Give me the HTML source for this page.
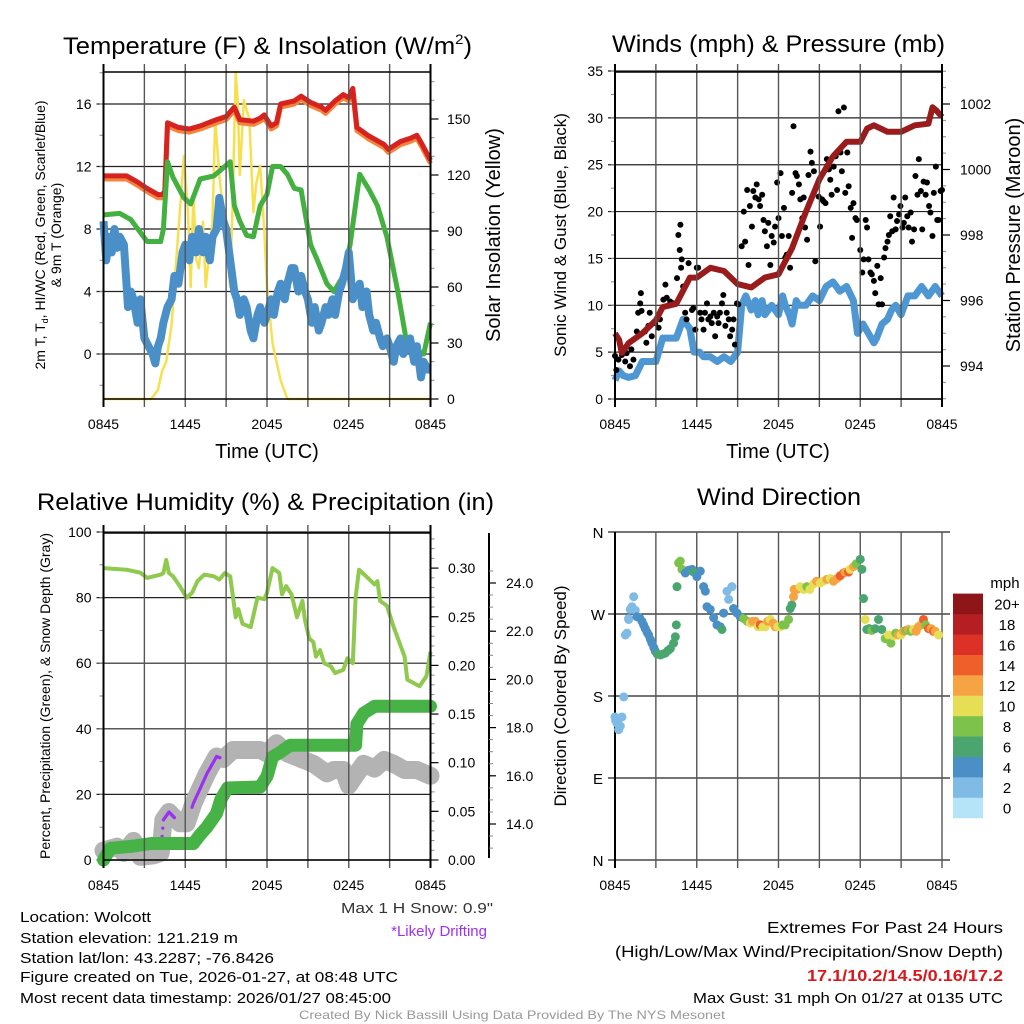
<!DOCTYPE html>
<html><head><meta charset="utf-8"><title>Mesonet Meteogram - Wolcott</title>
<style>
html,body{margin:0;padding:0;background:#fff;}
svg{display:block;font-family:"Liberation Sans",Arial,sans-serif;}
</style></head>
<body>
<svg id="fig" width="1024" height="1024" viewBox="0 0 1024 1024" xmlns="http://www.w3.org/2000/svg">
<rect width="1024" height="1024" fill="#fff"/>
<text x="63" y="54" font-size="24" textLength="409" lengthAdjust="spacingAndGlyphs">Temperature (F) &amp; Insolation (W/m<tspan font-size="14" dy="-10">2</tspan><tspan dy="10">)</tspan></text>
<text x="612" y="52" font-size="24" textLength="333" lengthAdjust="spacingAndGlyphs">Winds (mph) &amp; Pressure (mb)</text>
<text x="37" y="510" font-size="24" textLength="457" lengthAdjust="spacingAndGlyphs">Relative Humidity (%) &amp; Precipitation (in)</text>
<text x="697" y="505" font-size="24" textLength="164" lengthAdjust="spacingAndGlyphs">Wind Direction</text>

<text x="267" y="458" font-size="20" text-anchor="middle">Time (UTC)</text>
<text x="778" y="458" font-size="20" text-anchor="middle">Time (UTC)</text>
<text transform="translate(45,235) rotate(-90)" font-size="14" text-anchor="middle">2m T, T<tspan font-size="9" dy="3">d</tspan><tspan dy="-3">, HI/WC (Red, Green, Scarlet/Blue)</tspan></text>
<text transform="translate(61,235) rotate(-90)" font-size="14" text-anchor="middle">&amp; 9m T (Orange)</text>
<text transform="translate(500,235) rotate(-90)" font-size="20" text-anchor="middle">Solar Insolation (Yellow)</text>
<text transform="translate(566,235) rotate(-90)" font-size="17" text-anchor="middle">Sonic Wind &amp; Gust (Blue, Black)</text>
<text transform="translate(1020,235) rotate(-90)" font-size="20" text-anchor="middle">Station Pressure (Maroon)</text>
<text transform="translate(50,696) rotate(-90)" font-size="14" text-anchor="middle">Percent, Precipitation (Green), &amp; Snow Depth (Gray)</text>
<text transform="translate(566,696) rotate(-90)" font-size="17" text-anchor="middle">Direction (Colored By Speed)</text>

<text x="493" y="913" font-size="15" fill="#333" text-anchor="end" textLength="152" lengthAdjust="spacingAndGlyphs">Max 1 H Snow: 0.9"</text>
<text x="487" y="936" font-size="15" fill="#a030f0" text-anchor="end">*Likely Drifting</text>
<g font-size="15">
<text x="20" y="922" textLength="131" lengthAdjust="spacingAndGlyphs">Location: Wolcott</text>
<text x="20" y="943" textLength="218" lengthAdjust="spacingAndGlyphs">Station elevation: 121.219 m</text>
<text x="20" y="963" textLength="254" lengthAdjust="spacingAndGlyphs">Station lat/lon: 43.2287; -76.8426</text>
<text x="20" y="982" textLength="378" lengthAdjust="spacingAndGlyphs">Figure created on Tue, 2026-01-27, at 08:48 UTC</text>
<text x="20" y="1003" textLength="371" lengthAdjust="spacingAndGlyphs">Most recent data timestamp: 2026/01/27 08:45:00</text>
</g>
<g text-anchor="end">
<text x="1003" y="933" font-size="16" textLength="236" lengthAdjust="spacingAndGlyphs">Extremes For Past 24 Hours</text>
<text x="1003" y="957" font-size="16" textLength="388" lengthAdjust="spacingAndGlyphs">(High/Low/Max Wind/Precipitation/Snow Depth)</text>
<text x="1003" y="981" font-size="16" font-weight="bold" fill="#d7191c" textLength="196" lengthAdjust="spacingAndGlyphs">17.1/10.2/14.5/0.16/17.2</text>
<text x="1003" y="1003" font-size="15" textLength="310" lengthAdjust="spacingAndGlyphs">Max Gust: 31 mph On 01/27 at 0135 UTC</text>
</g>
<text x="512" y="1019" font-size="12" fill="#999" text-anchor="middle" textLength="426" lengthAdjust="spacingAndGlyphs">Created By Nick Bassill Using Data Provided By The NYS Mesonet</text>
</svg>
<script>
// ---------- data ----------
const xTickLabels = ["0845","1445","2045","0245","0845"];
const tempTicks = [0,4,8,12,16];
const solarTicks = [0,30,60,90,120,150];
const windTicks = [0,5,10,15,20,25,30,35];
const pressTicks = [994,996,998,1000,1002];
const rhTicks = [0,20,40,60,80,100];
const precipTicks = ["0.00","0.05","0.10","0.15","0.20","0.25","0.30"];
const snowTicks = ["14.0","16.0","18.0","20.0","22.0","24.0"];
const dirTicks = ["N","E","S","W","N"];
const speedBins = ["0","2","4","6","8","10","12","14","16","18","20+"];
const speedColors = ["#b5e3f8","#7fbbe5","#4a8fc6","#4aa66e","#7dc24b","#e6df55","#f6a443","#ee5f2a","#dc3127","#b51f24","#8e1518"];

const redH = [0,1.7,2.5,3.2,4.0,4.3,4.5,4.7,5.5,6.3,7.1,8.3,9.0,9.6,10.0,11.0,11.5,11.8,12.3,12.7,13.0,14.0,14.5,15.2,16.0,16.3,17.0,17.6,18.0,18.3,18.6,19.4,20.0,20.6,20.9,21.8,22.5,23.0,23.4,24.0];
const redT = [11.4,11.4,11.0,10.6,10.2,10.2,10.4,14.8,14.5,14.4,14.6,15.0,15.2,15.8,15.0,14.9,15.1,15.3,14.6,14.8,16.0,16.2,16.5,16.1,15.8,15.6,16.2,16.6,16.4,17.0,14.5,14.0,13.7,13.4,13.1,13.6,13.8,14.0,13.4,12.4];
const greenH = [0,1.2,2.0,3.2,4.2,4.4,4.7,5.1,5.9,6.4,7.1,8.1,9.3,9.6,10.0,10.5,11.0,11.5,12.0,12.4,13.0,13.5,14.0,14.5,14.7,15.2,15.7,16.4,16.9,17.6,18.1,18.8,19.5,20.1,20.8,21.6,22.3,23.5,24.0];
const greenT = [8.9,9.0,8.6,7.2,7.2,8.0,12.3,11.3,10.0,9.6,11.2,11.4,12.3,9.5,8.5,7.6,7.5,9.5,10.2,12.0,12.0,11.5,10.6,10.5,9.5,7.0,6.0,4.5,4.0,5.0,7.0,11.5,10.5,9.5,7.5,4.0,0.5,0.0,2.0];
const blueH = [0,0.2,0.4,0.6,0.8,1.0,1.2,1.5,1.8,2.0,2.2,2.5,2.7,3.0,3.3,3.6,3.8,4.0,4.2,4.4,4.7,5.0,5.2,5.5,5.8,6.0,6.3,6.5,6.8,7.0,7.3,7.5,7.8,8.0,8.3,8.5,8.8,9.0,9.3,9.6,9.8,10.0,10.3,10.5,10.8,11.0,11.3,11.5,11.8,12.0,12.3,12.5,12.8,13.0,13.3,13.5,13.8,14.0,14.3,14.5,14.8,15.0,15.3,15.5,15.8,16.0,16.3,16.5,16.8,17.0,17.3,17.5,17.8,18.0,18.3,18.5,18.8,19.0,19.3,19.5,19.8,20.0,20.3,20.5,20.8,21.0,21.3,21.5,21.8,22.0,22.3,22.5,22.8,23.0,23.3,23.5,23.8,24.0];
const blueT = [8.5,6.0,7.5,6.5,8.0,6.8,7.5,7.0,3.0,4.0,3.5,2.0,3.5,1.0,0.5,0.0,-0.6,0.5,1.0,2.0,3.0,3.5,5.0,4.5,6.5,7.0,6.0,7.5,6.5,8.0,6.5,7.5,6.0,7.5,8.0,10.0,8.5,8.0,6.0,4.0,3.5,2.5,3.5,3.0,1.5,1.0,2.5,3.0,2.0,2.5,3.5,2.5,4.0,4.5,3.5,4.5,5.5,5.5,4.0,5.0,4.0,3.5,2.0,3.0,1.5,2.0,3.0,2.5,3.5,2.5,4.0,4.5,5.5,6.5,3.5,4.0,4.5,3.0,4.0,2.5,1.5,2.0,1.0,0.5,1.0,0.5,-0.5,0.5,1.0,0.0,0.5,1.0,-0.5,0.5,-1.5,-0.5,-1.0,-1.0];
const solarH = [0,3.5,4.0,4.3,4.6,5.0,5.5,5.9,6.2,6.4,6.6,6.8,7.0,7.3,7.5,8.0,8.2,8.5,9.0,9.3,9.5,9.7,9.85,10.0,10.3,10.7,11.0,11.2,11.5,11.8,12.0,12.4,12.7,13.0,13.5,24.0];
const solarV = [0,0,5,15,20,40,90,130,100,60,110,75,70,95,60,95,150,120,85,60,110,175,160,120,160,150,100,115,125,90,60,30,20,10,0,0];

const windH = [0,0.3,0.6,1.0,1.5,2.0,2.5,3.0,3.3,3.5,4.0,4.5,5.0,5.5,5.8,6.2,6.5,7.0,7.5,8.0,8.5,9.0,9.3,9.6,10.0,10.3,10.5,10.8,11.0,11.5,12.0,12.3,12.5,12.8,13.0,13.3,13.5,14.0,14.5,15.0,15.5,16.0,16.5,17.0,17.5,17.8,18.2,18.6,19.0,19.2,19.6,20.0,20.3,20.6,21.0,21.5,22.0,22.5,23.0,23.5,24.0];
const windV = [2.0,3.0,2.5,2.3,2.5,4.0,4.0,4.0,5.5,6.5,6.5,6.5,8.5,7.5,5.0,5.0,4.5,4.5,4.0,4.5,4.0,5.0,10.0,11.0,9.5,10.5,9.0,10.5,9.0,10.0,9.0,11.0,10.0,9.0,8.0,10.5,10.0,10.0,11.0,10.5,12.0,12.5,11.5,12.0,10.5,7.0,8.0,7.0,6.0,6.5,8.0,8.5,9.5,10.0,9.0,11.0,11.0,12.0,11.0,12.0,11.0];
const pressH = [0,0.3,0.5,1.0,2.0,3.0,3.5,4.5,5.5,6.0,7.0,8.0,9.0,10.0,11.0,12.0,13.0,14.0,15.0,16.0,17.0,18.0,18.5,19.0,20.0,21.0,22.0,23.0,23.3,23.6,24.0];
const pressP = [995.0,994.8,994.4,994.7,995.0,995.4,995.8,995.9,996.7,996.7,997.0,996.9,996.5,996.4,996.7,996.8,997.6,998.7,999.7,1000.4,1000.85,1000.85,1001.25,1001.35,1001.15,1001.15,1001.35,1001.4,1001.9,1001.8,1001.6];
const gustH = [0.0,0.1,0.25,0.5,0.75,0.85,1.1,1.2,1.35,1.6,1.7,1.85,1.9,1.95,2.2,2.3,2.45,2.55,2.7,2.95,3.2,3.3,3.55,3.7,3.8,4.05,4.3,4.55,4.65,4.75,4.8,4.85,4.9,5.0,5.15,5.25,5.4,5.65,5.75,5.9,6.0,6.1,6.25,6.35,6.5,6.6,6.75,6.85,7.0,7.1,7.25,7.35,7.5,7.6,7.7,7.85,7.95,8.1,8.2,8.35,8.45,8.6,8.7,8.8,8.95,9.05,9.3,9.45,9.55,9.7,9.8,9.9,10.05,10.15,10.3,10.4,10.55,10.65,10.8,10.9,11.0,11.15,11.25,11.4,11.5,11.65,11.75,11.9,12.0,12.15,12.25,12.4,12.5,12.6,12.75,12.85,13.0,13.1,13.25,13.35,13.5,13.6,13.75,13.85,13.95,14.1,14.2,14.35,14.45,14.6,14.7,14.85,14.95,15.05,15.2,15.3,15.45,15.55,15.7,15.8,15.9,16.05,16.2,16.3,16.4,16.55,16.65,16.8,16.9,17.05,17.15,17.3,17.4,17.5,17.65,17.75,18.0,18.15,18.25,18.4,18.5,18.6,18.75,18.85,19.0,19.1,19.25,19.35,19.5,19.6,19.75,19.85,20.0,20.1,20.2,20.35,20.45,20.6,20.7,20.85,20.95,21.1,21.2,21.3,21.45,21.55,21.7,21.8,21.95,22.05,22.2,22.3,22.45,22.55,22.65,22.8,22.9,23.05,23.15,23.3,23.4,23.55,23.65,23.75,23.9,24.0];
const gustV = [4.6,3.1,4.2,4.7,4.0,4.9,3.5,5.3,4.2,7.2,9.2,10.2,11.3,9.4,7.2,6.0,7.8,9.2,6.7,8.1,7.6,8.5,10.6,12.2,10.8,10.4,10.2,12.9,17.5,15.9,18.6,14.0,14.9,12.0,9.2,8.5,14.5,9.5,9.7,7.4,14.0,14.0,9.2,8.5,7.4,9.2,10.2,8.5,8.8,8.1,9.2,6.7,8.8,8.1,9.2,10.2,11.1,7.8,9.2,8.5,6.7,7.4,8.5,5.8,10.2,10.1,16.3,20.0,16.8,22.3,14.3,20.6,18.4,22.2,21.5,22.9,21.3,20.6,21.8,19.1,17.9,16.3,18.8,14.3,17.4,16.7,18.4,23.1,19.3,24.1,17.4,20.4,15.1,15.4,17.4,14.0,22.0,29.1,24.1,23.8,22.9,21.3,19.3,21.5,18.3,17.0,23.9,26.4,25.2,24.3,14.7,22.7,21.6,18.4,21.3,21.1,20.9,25.6,24.5,23.4,21.8,24.8,25.9,22.3,30.7,26.3,24.3,31.1,22.0,26.3,22.7,20.4,17.2,20.9,19.3,19.1,15.9,13.5,14.9,19.1,18.3,14.9,13.5,13.3,12.6,11.3,14.2,10.1,12.9,10.1,15.1,16.1,16.8,17.5,19.5,17.9,21.5,18.1,19.0,19.7,20.6,18.3,18.8,21.5,19.5,18.3,19.9,16.8,18.1,23.8,21.8,25.6,22.2,18.1,23.2,21.8,23.1,20.6,19.9,17.4,22.0,24.8,19.1,19.1,22.2,22.3];

const rhH = [0,1.7,2.7,3.2,4.2,4.4,4.6,4.8,5.1,5.6,6.1,6.5,6.9,7.4,8.1,8.5,8.9,9.3,9.7,9.9,10.2,10.8,11.3,11.8,12.0,12.4,12.9,13.1,13.4,13.8,14.2,14.6,14.8,15.1,15.4,15.6,15.9,16.2,16.7,17.0,17.6,17.9,18.3,18.5,18.75,19.4,19.9,20.1,20.3,20.8,21.3,22.1,22.3,23.2,23.7,24.0];
const rhV = [89,88.5,87.6,86,87,87.5,91.5,87.5,86.5,83.5,80,81.5,85,87,86.5,85.5,87.5,86.5,74,76.5,72,71,80,79.5,81.5,89,87.5,81,83.5,81,74,79,73,67.5,66.5,62,64,60,59,57,58,61.5,60,80,88.5,86,84,85,79,77.5,71,62,55,53,56,63.5];
const precipH = [0,0.5,2.0,3.5,6.6,7.1,7.6,8.3,8.6,9.1,11.5,12.0,12.4,13.0,13.7,18.5,18.6,19.1,19.9,24.0];
const precipV = [0,0.012,0.014,0.017,0.017,0.026,0.034,0.048,0.062,0.074,0.075,0.086,0.106,0.111,0.118,0.118,0.140,0.151,0.158,0.158];
const snowH = [0,1.0,1.5,2.2,2.7,3.7,4.2,4.4,4.8,5.6,6.1,6.6,7.6,8.3,8.8,9.5,11.5,12.0,12.7,13.5,14.5,15.4,16.4,16.9,17.6,18.0,18.6,19.1,19.9,20.6,21.3,22.1,23.0,24.0];
const snowV = [12.9,13.06,12.8,13.3,12.64,12.7,12.8,14.17,14.5,14.03,14.03,14.86,16.1,16.8,16.7,17.07,17.07,16.93,17.35,16.93,16.7,16.5,16.1,16.24,16.24,15.6,16.1,16.5,16.3,16.66,16.5,16.24,16.24,16.0];
const driftStart = [4.3,6.5];
const driftEnd = [5.2,8.6];

const dirH = [0,0.05,0.15,0.27,0.39,0.51,0.64,0.2,0.76,0.88,1.0,1.12,1.25,1.37,1.49,1.0,1.61,1.8,1.98,2.1,2.22,2.35,2.47,2.6,2.71,2.85,2.96,3.1,3.33,3.5,3.69,3.9,4.06,4.3,4.43,4.5,4.55,4.67,4.79,4.91,5.16,5.4,5.65,5.77,6.01,6.26,6.5,6.63,6.75,6.99,7.24,7.48,7.73,7.85,7.97,8.22,8.34,8.58,8.7,8.95,9.19,9.44,9.7,9.93,10.1,10.29,10.5,10.66,10.85,11.03,11.2,11.39,11.6,11.76,11.95,12.13,12.3,12.49,12.74,12.86,12.98,13.1,13.15,13.35,13.59,13.85,14.08,14.3,14.57,14.8,15.06,15.3,15.55,15.8,16.04,16.3,16.53,16.77,16.89,17.14,17.26,17.51,17.7,18.0,18.12,18.24,18.36,18.48,18.65,18.85,19.1,19.34,19.58,19.83,20.07,20.25,20.44,20.6,20.81,21.0,21.17,21.35,21.54,21.7,21.91,22.1,22.27,22.45,22.64,22.8,23.01,23.2,23.37,23.5,23.74,23.99];
const dirD = [157,153,150,143,147,157,179,150,247,249,264,275,278,289,274,265,267,266,262,258,254,250,247,242,238,233,229,226,225,226,227,230,232,238,245,258,300,326,328,319,315,318,319,316,311,317,300,295,278,275,266,258,256,253,271,295,286,300,276,271,267,265,262,260,262,262,256,258,256,256,262,264,260,256,256,256,258,258,264,276,280,289,297,297,300,297,300,297,303,306,304,306,308,309,306,309,312,315,316,316,319,322,325,330,319,287,264,253,254,252,254,264,253,243,247,238,246,249,247,247,251,252,253,251,253,251,256,258,264,258,254,254,251,251,247];
const dirS = [2,2,2,2,2,2,2,2,2,2,3,3,3,3,3,3,4,4,4,4,4,4,4,4,4,5,4,6,6,6,6,7,6,6,7,7,6,8,8,8,4,4,5,6,5,4,5,4,4,4,4,4,5,7,4,3,3,3,4,4,4,9,9,11,13,12,11,15,10,10,13,11,12,13,11,10,8,8,8,7,7,12,12,12,11,10,9,10,11,12,10,10,12,11,13,12,14,15,12,15,10,12,9,7,6,6,10,7,6,8,7,6,7,8,10,9,10,9,12,11,13,9,12,8,11,12,13,12,14,9,15,13,14,12,11];

// ---------- helpers ----------
const NS = "http://www.w3.org/2000/svg";
const svg = document.getElementById('fig');
function mk(tag, attrs, parent, name) {
  const el = document.createElementNS(NS, tag);
  for (const k in attrs) el.setAttribute(k, attrs[k]);
  
  
  (parent || svg).appendChild(el);
  return el;
}
function pathFrom(xs, ys, fx, fy) {
  let d = "";
  const n = Math.min(xs.length, ys.length);
  for (let i = 0; i < n; i++) d += (i ? "L" : "M") + fx(xs[i]).toFixed(1) + "," + fy(ys[i]).toFixed(1);
  return d;
}
function interp(xs, ys, x) {
  for (let i = 1; i < xs.length; i++) if (x <= xs[i]) { const t = (x - xs[i-1]) / (xs[i] - xs[i-1]); return ys[i-1] + t * (ys[i] - ys[i-1]); }
  return ys[ys.length - 1];
}

const X1 = h => 103.5 + h * 13.625;
const X2 = h => 615 + h * 13.625;
const Ty = t => 354 - t * 15.625;
const Sy = v => 399 - v * 1.8667;
const Wy = v => 399 - v * 9.371;
const Py = p => 366 - (p - 994) * 32.75;
const Ry = p => 860 - p * 3.28;
const PrY = i => 860 - i * 973;
const SdY = s => 824 - (s - 14) * 24.1;
const Dy = d => 860 - d * 328 / 360;

function frame(g, X, top, bot, prefix) {
  const l = X(0), r = X(24);
  for (let k = 0; k <= 8; k++) {
    const x = X(k * 3);
    mk('line', {x1:x, y1:top-8, x2:x, y2:bot+8, stroke:(k===0||k===8)?'#000':'#555', 'stroke-width':(k===0||k===8)?2:1.4}, g, prefix+'-vgrid');
  }
  xTickLabels.forEach((s, i) => {
    const t = mk('text', {x:X(i*6), y:bot+30, 'font-size':14, 'text-anchor':'middle'}, g, prefix+'-x-tick-label');
    t.textContent = s;
  });
  mk('line', {x1:l, y1:top, x2:r, y2:top, stroke:'#000', 'stroke-width':1.5}, g, prefix+'-top-border');
  mk('line', {x1:l, y1:bot, x2:r, y2:bot, stroke:'#000', 'stroke-width':1.5}, g, prefix+'-bottom-border');
}
function hgrid(g, vals, fy, l, r, labels, prefix, minorStep, vmin, vmax) {
  vals.forEach((v, i) => {
    mk('line', {x1:l-7, y1:fy(v), x2:r, y2:fy(v), stroke:'#222', 'stroke-width':1.2}, g, prefix+'-hgrid');
    const t = mk('text', {x:l-12, y:fy(v)+5, 'font-size':14, 'text-anchor':'end'}, g, prefix+'-y-tick-label');
    t.textContent = labels ? labels[i] : String(v);
  });
  if (minorStep) for (let v = vmin; v <= vmax + 1e-9; v += minorStep)
    mk('line', {x1:l-4, y1:fy(v), x2:l, y2:fy(v), stroke:'#888', 'stroke-width':1}, g, prefix+'-minor-tick');
}
function rightAxis(g, x, top, bot, vals, labels, fy, minorStep, vmin, vmax, prefix, lx) {
  mk('line', {x1:x, y1:top, x2:x, y2:bot, stroke:'#000', 'stroke-width':2}, g, prefix+'-axis-line');
  for (let v = vmin; v <= vmax + 1e-9; v += minorStep)
    mk('line', {x1:x, y1:fy(v), x2:x+4, y2:fy(v), stroke:'#888', 'stroke-width':1}, g, prefix+'-minor-tick');
  vals.forEach((v, i) => {
    mk('line', {x1:x, y1:fy(v), x2:x+8, y2:fy(v), stroke:'#000', 'stroke-width':1.2}, g, prefix+'-major-tick');
    const t = mk('text', {x:lx, y:fy(v)+5, 'font-size':14}, g, prefix+'-tick-label');
    t.textContent = labels[i];
  });
}

// ---------- Panel 1 ----------
const g1 = mk('g', {}, svg, 'temperature-panel');
hgrid(g1, tempTicks, Ty, X1(0), X1(24), null, 'temp', 2, -2, 18);
rightAxis(g1, X1(24), 72, 399, solarTicks, solarTicks.map(String), Sy, 10, 0, 170, 'solar', 447);
mk('path', {d:pathFrom(solarH, solarV, X1, Sy), fill:'none', stroke:'#f7e04f', 'stroke-width':2.5, 'stroke-linejoin':'round'}, g1, 'solar-insolation-line');
mk('path', {d:pathFrom(redH, redT.map(v=>v-0.2), X1, Ty), fill:'none', stroke:'#f5843a', 'stroke-width':5, 'stroke-linejoin':'round'}, g1, 'temp-9m-orange-line');
mk('path', {d:pathFrom(redH, redT, X1, Ty), fill:'none', stroke:'#d7231f', 'stroke-width':5, 'stroke-linejoin':'round'}, g1, 'temp-2m-red-line');
mk('path', {d:pathFrom(greenH, greenT, X1, Ty), fill:'none', stroke:'#44b040', 'stroke-width':5, 'stroke-linejoin':'round'}, g1, 'dewpoint-green-line');
mk('path', {d:pathFrom(blueH, blueT, X1, Ty), fill:'none', stroke:'#4a8fc8', 'stroke-width':8, 'stroke-linejoin':'round'}, g1, 'windchill-blue-line');
frame(g1, X1, 72, 399, 'temp');

// ---------- Panel 2 ----------
const g2 = mk('g', {}, svg, 'winds-panel');
hgrid(g2, windTicks, Wy, X2(0), X2(24), null, 'wind', 2.5, 0, 35);
rightAxis(g2, X2(24), 72, 399, pressTicks, pressTicks.map(String), Py, 0.5, 993, 1003, 'pressure', 960);
mk('path', {d:pathFrom(windH, windV, X2, Wy), fill:'none', stroke:'#4f97d3', 'stroke-width':7, 'stroke-linejoin':'round'}, g2, 'sustained-wind-line');
const gustN = Math.min(gustH.length, gustV.length);
for (let i = 0; i < gustN; i++) {
  mk('circle', {cx:X2(gustH[i]), cy:Wy(gustV[i]), r:3, fill:'#000'}, g2, 'gust-point');
}
mk('path', {d:pathFrom(pressH, pressP, X2, Py), fill:'none', stroke:'#9a1b1b', 'stroke-width':6, 'stroke-linejoin':'round'}, g2, 'pressure-line');
frame(g2, X2, 72, 399, 'wind');

// ---------- Panel 3 ----------
const g3 = mk('g', {}, svg, 'humidity-panel');
hgrid(g3, rhTicks, Ry, X1(0), X1(24), null, 'rh', 10, 0, 100);
rightAxis(g3, X1(24), 533, 860, [0,0.05,0.10,0.15,0.20,0.25,0.30], precipTicks, PrY, 0.01, 0, 0.33, 'precip', 448);
mk('line', {x1:489, y1:533, x2:489, y2:858, stroke:'#000', 'stroke-width':2}, g3, 'snow-axis-line');
for (let s = 13; s <= 24.9; s += 0.5) mk('line', {x1:489, y1:SdY(s), x2:493, y2:SdY(s), stroke:'#888', 'stroke-width':1}, g3, 'snow-minor-tick');
snowTicks.forEach(s => {
  const v = parseFloat(s);
  mk('line', {x1:489, y1:SdY(v), x2:496, y2:SdY(v), stroke:'#000', 'stroke-width':1.2}, g3, 'snow-major-tick');
  const t = mk('text', {x:506, y:SdY(v)+5, 'font-size':14}, g3, 'snow-tick-label');
  t.textContent = s;
});
mk('path', {d:pathFrom(snowH, snowV, X1, SdY), fill:'none', stroke:'#b3b3b3', 'stroke-width':18, 'stroke-linejoin':'round', 'stroke-linecap':'round'}, g3, 'snow-depth-line');
driftStart.forEach((s, i) => {
  for (let h = s; h <= driftEnd[i]; h += 0.05)
    mk('circle', {cx:X1(h), cy:SdY(interp(snowH, snowV, h)), r:1.6, fill:'#9b30f0'}, g3, 'drifting-point');
});
mk('path', {d:pathFrom(precipH, precipV, X1, PrY), fill:'none', stroke:'#47b347', 'stroke-width':13, 'stroke-linejoin':'round', 'stroke-linecap':'round'}, g3, 'precipitation-line');
mk('path', {d:pathFrom(rhH, rhV, X1, Ry), fill:'none', stroke:'#8fc94e', 'stroke-width':4, 'stroke-linejoin':'round'}, g3, 'relative-humidity-line');
frame(g3, X1, 533, 860, 'rh');

// ---------- Panel 4 ----------
const g4 = mk('g', {}, svg, 'wind-direction-panel');
dirTicks.forEach((s, i) => {
  const y = Dy(i * 90);
  mk('line', {x1:X2(0)-7, y1:y, x2:X2(24)+8, y2:y, stroke:'#222', 'stroke-width':1.2}, g4, 'direction-hgrid');
  const t = mk('text', {x:X2(0)-17, y:y+6, 'font-size':15, 'text-anchor':'middle'}, g4, 'direction-tick-label');
  t.textContent = s;
});
for (let k = 0; k <= 8; k++) {
  const x = X2(k * 3);
  mk('line', {x1:x, y1:532, x2:x, y2:868, stroke:(k===0)?'#000':'#555', 'stroke-width':(k===0)?2:1.4}, g4, 'direction-vgrid');
}
xTickLabels.forEach((s, i) => {
  const t = mk('text', {x:X2(i*6), y:890, 'font-size':14, 'text-anchor':'middle'}, g4, 'direction-x-tick-label');
  t.textContent = s;
});
const dirN = Math.min(dirH.length, dirD.length, dirS.length);
for (let i = 0; i < dirN; i++) {
  const c = speedColors[Math.min(10, Math.floor(dirS[i] / 2))];
  mk('circle', {cx:X2(dirH[i]), cy:Dy(dirD[i]), r:4.5, fill:c}, g4, 'direction-point');
}
const cb = mk('g', {}, svg, 'speed-colorbar');
const lab = mk('text', {x:1005, y:588, 'font-size':15, 'text-anchor':'middle'}, cb, 'colorbar-unit-label');
lab.textContent = 'mph';
speedBins.forEach((s, i) => {
  const y = 818 - (i + 1) * 20.4;
  mk('rect', {x:953, y:y, width:30, height:20.6, fill:speedColors[i]}, cb, 'colorbar-box');
  const t = mk('text', {x:1007, y:y+16, 'font-size':15, 'text-anchor':'middle'}, cb, 'colorbar-label');
  t.textContent = s;
});
</script>
</body></html>
